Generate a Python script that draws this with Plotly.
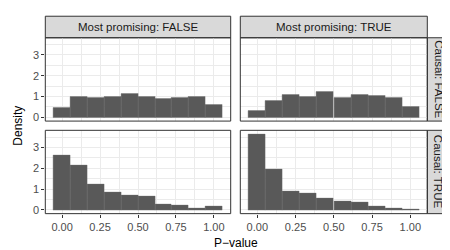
import plotly.graph_objects as go

# ---- data ----
bin_centers = [0.000, 0.111, 0.222, 0.333, 0.444, 0.556, 0.667, 0.778, 0.889, 1.000]
bin_width = 0.1111
dens_causalF_mpF = [0.44, 0.99, 0.94, 0.97, 1.13, 0.97, 0.91, 0.94, 0.99, 0.61]
dens_causalF_mpT = [0.30, 0.80, 1.08, 1.01, 1.23, 0.96, 1.08, 1.02, 0.94, 0.52]
dens_causalT_mpF = [2.60, 2.14, 1.23, 0.82, 0.69, 0.63, 0.28, 0.22, 0.08, 0.16]
dens_causalT_mpT = [3.64, 1.97, 0.88, 0.80, 0.54, 0.43, 0.38, 0.19, 0.08, 0.02]
col_labels = ["Most promising: FALSE", "Most promising: TRUE"]
row_labels = ["Causal: FALSE", "Causal: TRUE"]
x_ticks = [0, 0.25, 0.5, 0.75, 1.0]
x_ticklabels = ["0.00", "0.25", "0.50", "0.75", "1.00"]
y_ticks = [0, 1, 2, 3]

W, H = 450, 250
FONT = "Liberation Sans, Arial, sans-serif"

def px_x(p):
    return p / W

def px_y(p):
    return 1 - p / H

col_px = [(37.3, 222.7), (232.3, 419.3)]
row_px = [(30.0, 114.0), (123.3, 207.3)]
strip_top = (8.3, 30.0)
strip_right = (419.3, 441.0)

panels = [
    (0, 0, dens_causalF_mpF),
    (0, 1, dens_causalF_mpT),
    (1, 0, dens_causalT_mpF),
    (1, 1, dens_causalT_mpT),
]

fig = go.Figure()
layout = dict(
    width=W, height=H,
    margin=dict(l=0, r=0, t=0, b=0),
    paper_bgcolor="white", plot_bgcolor="white",
    showlegend=False, bargap=0,
    font=dict(family=FONT),
)
shapes = []
annotations = []
grid_col = "#ebebeb"
border_col = "#333333"

for i, (r, c, dens) in enumerate(panels):
    n = i + 1
    xa = "x" if n == 1 else f"x{n}"
    ya = "y" if n == 1 else f"y{n}"
    fig.add_trace(go.Bar(
        x=bin_centers, y=dens, width=[bin_width] * len(bin_centers),
        marker=dict(color="#595959", line=dict(width=0.4, color="#6e6e6e")),
        xaxis=xa, yaxis=ya, hoverinfo="skip",
    ))
    x0, x1 = col_px[c]
    y0, y1 = row_px[r]
    xkey = "xaxis" if n == 1 else f"xaxis{n}"
    ykey = "yaxis" if n == 1 else f"yaxis{n}"
    layout[xkey] = dict(
        domain=[px_x(x0), px_x(x1)], anchor=ya,
        range=[-0.111, 1.111],
        tickvals=x_ticks, ticktext=x_ticklabels,
        showticklabels=(r == 1),
        ticks="outside" if r == 1 else "", ticklen=3, tickwidth=1, tickcolor=border_col,
        tickfont=dict(size=11, color="#4d4d4d", family=FONT),
        showgrid=True, gridcolor=grid_col, gridwidth=1,
        minor=dict(tickvals=[0.125, 0.375, 0.625, 0.875], showgrid=True,
                   gridcolor=grid_col, gridwidth=0.5, ticks=""),
        zeroline=False, showline=False, fixedrange=True,
    )
    layout[ykey] = dict(
        domain=[px_y(y1), px_y(y0)], anchor=xa,
        range=[-0.182, 3.822],
        tickvals=y_ticks,
        showticklabels=(c == 0),
        ticks="outside" if c == 0 else "", ticklen=3, tickwidth=1, tickcolor=border_col,
        tickfont=dict(size=11, color="#4d4d4d", family=FONT),
        showgrid=True, gridcolor=grid_col, gridwidth=1,
        minor=dict(tickvals=[0.5, 1.5, 2.5, 3.5], showgrid=True,
                   gridcolor=grid_col, gridwidth=0.5, ticks=""),
        zeroline=False, showline=False, fixedrange=True,
    )
    # panel border
    shapes.append(dict(type="rect", xref="paper", yref="paper",
                       x0=px_x(x0), x1=px_x(x1), y0=px_y(y1), y1=px_y(y0),
                       line=dict(color=border_col, width=1), fillcolor="rgba(0,0,0,0)",
                       layer="above"))

# top strips
for c, lab in enumerate(col_labels):
    x0, x1 = col_px[c]
    shapes.append(dict(type="rect", xref="paper", yref="paper",
                       x0=px_x(x0), x1=px_x(x1), y0=px_y(strip_top[1]), y1=px_y(strip_top[0]),
                       line=dict(color=border_col, width=1), fillcolor="#d9d9d9", layer="below"))
    annotations.append(dict(text=lab, xref="paper", yref="paper",
                            x=px_x((x0 + x1) / 2), y=px_y((strip_top[0] + strip_top[1]) / 2),
                            showarrow=False, xanchor="center", yanchor="middle",
                            font=dict(size=11.5, color="#1a1a1a", family=FONT)))
# right strips
for r, lab in enumerate(row_labels):
    y0, y1 = row_px[r]
    shapes.append(dict(type="rect", xref="paper", yref="paper",
                       x0=px_x(strip_right[0]), x1=px_x(strip_right[1]), y0=px_y(y1), y1=px_y(y0),
                       line=dict(color=border_col, width=1), fillcolor="#d9d9d9", layer="below"))
    annotations.append(dict(text=lab, xref="paper", yref="paper",
                            x=px_x((strip_right[0] + strip_right[1]) / 2), y=px_y((y0 + y1) / 2),
                            showarrow=False, xanchor="center", yanchor="middle", textangle=90,
                            font=dict(size=11.5, color="#1a1a1a", family=FONT)))

# axis titles
annotations.append(dict(text="P\u2212value", xref="paper", yref="paper",
                        x=px_x((col_px[0][0] + col_px[1][1]) / 2), y=px_y(237),
                        showarrow=False, xanchor="center", yanchor="middle",
                        font=dict(size=12, color="black", family=FONT)))
annotations.append(dict(text="Density", xref="paper", yref="paper",
                        x=px_x(10), y=px_y((row_px[0][0] + row_px[1][1]) / 2),
                        showarrow=False, xanchor="center", yanchor="middle", textangle=-90,
                        font=dict(size=12, color="black", family=FONT)))

layout["shapes"] = shapes
layout["annotations"] = annotations
fig.update_layout(**layout)
fig.write_html("out.html")
